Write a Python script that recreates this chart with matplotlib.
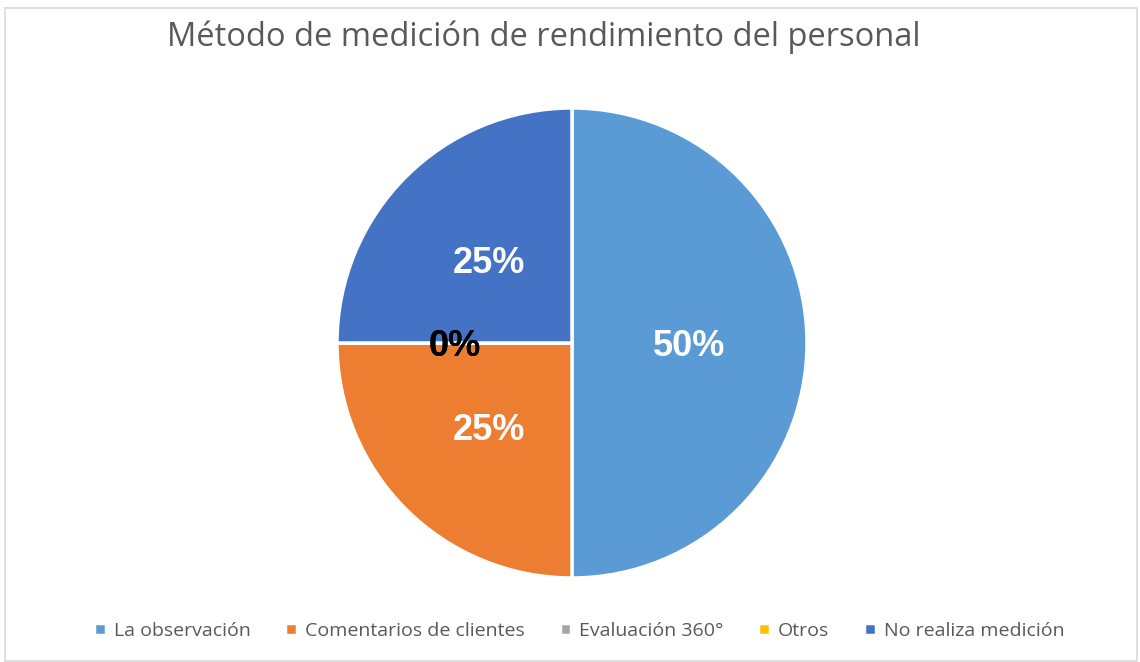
import matplotlib.pyplot as plt
from matplotlib.patches import Rectangle

# datos
categorias = ["La observación", "Comentarios de clientes", "Evaluación 360°", "Otros", "No realiza medición"]
valores = [50, 25, 0, 0, 25]
colores = ["#5B9BD5", "#ED7D31", "#A5A5A5", "#FFC000", "#4472C4"]

plt.rcParams['font.family'] = ['Open Sans', 'DejaVu Sans']

fig = plt.figure(figsize=(11.4, 6.62), dpi=100)
fig.patch.set_facecolor("white")

# marco del grafico
fig.patches.append(Rectangle((5/1140, 0.002), 1132/1140, 1 - 8/662 - 0.002, transform=fig.transFigure,
                             fill=False, edgecolor="#D9D9D9", linewidth=1.2))

ax = fig.add_axes([0.2956, 0.1269, 0.4123, 0.71])
wedges, textos, pcts = ax.pie(valores, colors=colores, startangle=90, counterclock=False,
                              autopct='%1.0f%%', pctdistance=0.5, radius=1,
                              wedgeprops=dict(edgecolor="white", linewidth=2.5))
for v, t in zip(valores, pcts):
    t.set_family(["Liberation Sans", "DejaVu Sans"])
    t.set_fontsize(26)
    t.set_fontweight("bold")
    t.set_color("white" if v > 0 else "black")
    x, y = t.get_position()
    t.set_position((x, y - 0.017))
ax.set_xlim(-1.0, 1.0)
ax.set_ylim(-1.0, 1.0)
ax.set_aspect("equal")

fig.text(0.477, 0.943, "Método de medición de rendimiento del personal", ha="center", va="center",
         fontsize=23.5, color="#595959")

leg = fig.legend(wedges, categorias, loc="center", bbox_to_anchor=(0.508, 0.047), ncol=5,
                 frameon=False, fontsize=14, handlelength=0.6, handleheight=0.6,
                 handletextpad=0.4, columnspacing=1.8, labelcolor="#595959")

plt.savefig("out.png", dpi=100)
